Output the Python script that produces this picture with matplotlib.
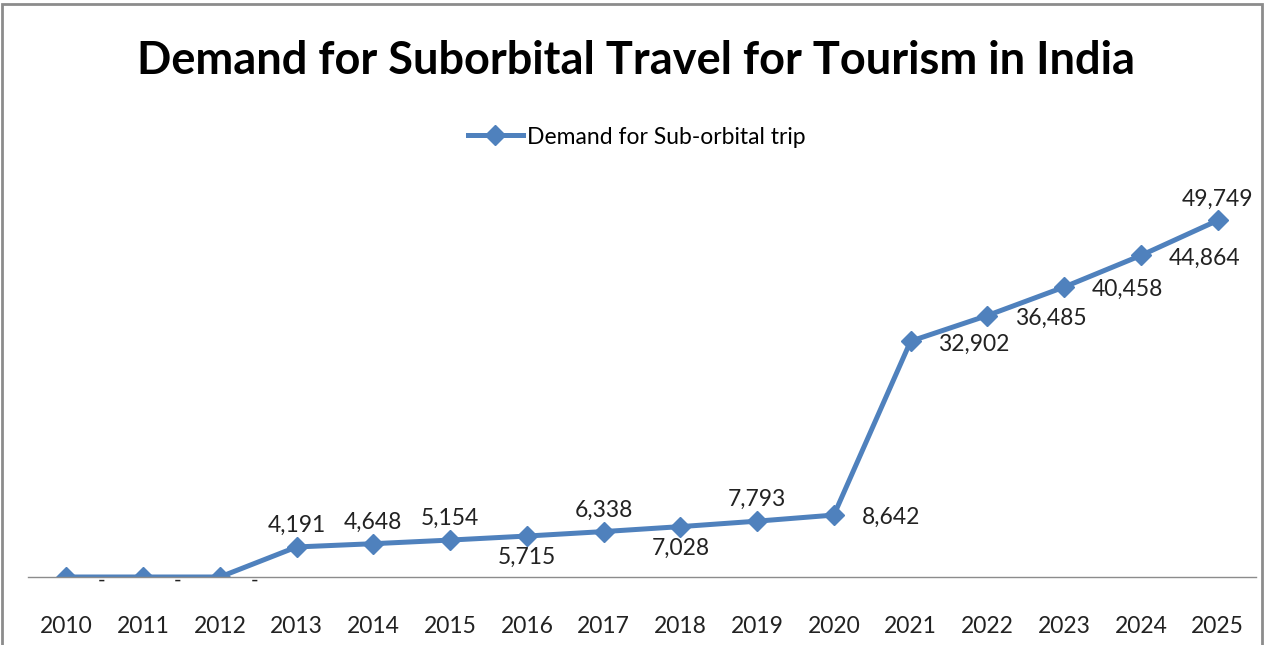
import matplotlib.pyplot as plt
from matplotlib.patches import Rectangle

years = ['2010', '2011', '2012', '2013', '2014', '2015', '2016', '2017',
         '2018', '2019', '2020', '2021', '2022', '2023', '2024', '2025']
demand = [0, 0, 0, 4191, 4648, 5154, 5715, 6338,
          7028, 7793, 8642, 32902, 36485, 40458, 44864, 49749]
# where each data label sits relative to its point
placement = ['zero', 'zero', 'zero', 'above', 'above', 'above', 'below', 'above',
             'below', 'above', 'right', 'right', 'right', 'right', 'right', 'above']

blue = '#4f81bd'
txt = '#222222'
plt.rcParams['font.family'] = ['Lato', 'DejaVu Sans']

fig = plt.figure(figsize=(12.66, 6.45), dpi=100)
ax = fig.add_axes([28 / 1266, 68 / 645, 1228 / 1266, 430 / 645])

x = list(range(len(years)))
ax.plot(x, demand, color=blue, lw=3.6, marker='D', markersize=10,
        label='Demand for Sub-orbital trip')

for xi, v, p in zip(x, demand, placement):
    if p == 'zero':
        ax.annotate('-', (xi, v), xytext=(25, -3), textcoords='offset points',
                    ha='center', va='center', fontsize=15, color=txt)
    elif p == 'above':
        ax.annotate(f'{v:,}', (xi, v), xytext=(0, 8), textcoords='offset points',
                    ha='center', va='bottom', fontsize=16.5, color=txt)
    elif p == 'below':
        ax.annotate(f'{v:,}', (xi, v), xytext=(0, -8), textcoords='offset points',
                    ha='center', va='top', fontsize=16.5, color=txt)
    else:
        ax.annotate(f'{v:,}', (xi, v), xytext=(20, -2), textcoords='offset points',
                    ha='left', va='center', fontsize=16.5, color=txt)

ax.set_xlim(-0.5, len(years) - 0.5)
ax.set_ylim(0, 60000)
ax.set_xticks(x)
ax.set_xticklabels(years, fontsize=16.5, color=txt)
ax.tick_params(axis='x', length=0, pad=28)
ax.set_yticks([])
for s in ['top', 'right', 'left']:
    ax.spines[s].set_visible(False)
ax.spines['bottom'].set_color('#8c8c8c')
ax.spines['bottom'].set_linewidth(1)

fig.text(0.502, 1 - 61 / 645, 'Demand for Suborbital Travel for Tourism in India',
         ha='center', va='center', fontsize=32.5, fontweight='bold')

fig.legend(loc='center', bbox_to_anchor=(0.503, 1 - 137 / 645), frameon=False,
           fontsize=16.5, handlelength=2.4, handletextpad=0.2)

fig.patches.append(Rectangle((2 / 1266, -0.01), 1260 / 1266, 1 - 4 / 645 + 0.01,
                             transform=fig.transFigure, fill=False,
                             edgecolor='#8c8c8c', lw=2))

fig.savefig('out.png', dpi=100)
